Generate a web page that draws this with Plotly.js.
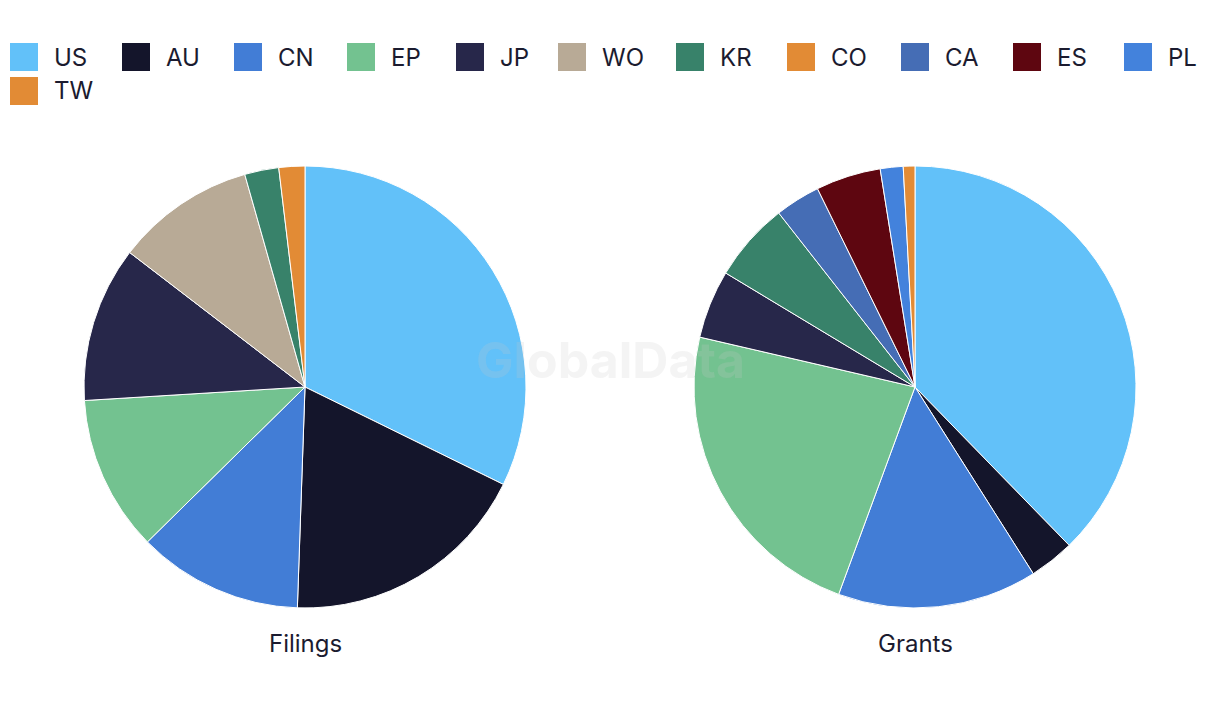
<!DOCTYPE html>
<html>
<head>
<meta charset="utf-8">
<script src="https://cdn.plot.ly/plotly-3.0.1.min.js"></script>
<style>html,body{margin:0;padding:0;background:#fff;}#chart{width:1220px;height:720px;}</style>
</head>
<body>
<div id="chart"></div>
<script>
// Data
const filingsLabels = ["US", "AU", "CN", "EP", "JP", "WO", "KR", "CO"];
const filingsValues = [32.3, 18.3, 12.1, 11.4, 11.4, 10.2, 2.5, 1.9];
const grantsLabels = ["US", "AU", "CN", "EP", "JP", "KR", "CA", "ES", "PL", "TW"];
const grantsValues = [37.7, 3.3, 14.6, 23.0, 5.0, 5.8, 3.3, 4.75, 1.67, 0.85];
const legendLabels = ["US", "AU", "CN", "EP", "JP", "WO", "KR", "CO", "CA", "ES", "PL", "TW"];
const colorMap = {
  US: "#62C1F9", AU: "#14152B", CN: "#427DD6", EP: "#73C290", JP: "#27274A",
  WO: "#B8AA96", KR: "#38826A", CO: "#E28B35", CA: "#456DB5", ES: "#5E0610",
  PL: "#4382DC", TW: "#E28B35"
};
const pieTitles = ["Filings", "Grants"];

const W = 1220, H = 720;
const mT = 166, mB = 112;
const plotH = H - mT - mB;
const font = "Inter, Roboto, 'Noto Sans', sans-serif";
const textColor = "#1b1b2f";

function pieTrace(labels, values, x0, x1) {
  return {
    type: "pie",
    labels: labels,
    values: values,
    sort: false,
    direction: "clockwise",
    rotation: 0,
    textinfo: "none",
    hoverinfo: "label+percent",
    marker: { colors: labels.map(l => colorMap[l]), line: { color: "#ffffff", width: 1 } },
    domain: { x: [x0, x1], y: [0, 1] },
    showlegend: false
  };
}

const data = [
  pieTrace(filingsLabels, filingsValues, 0, 0.5),
  pieTrace(grantsLabels, grantsValues, 0.5, 1)
];

// custom legend (paper coords from pixels)
const legendX = [10, 122, 234, 347, 456, 558, 676, 787, 901, 1013, 1124, 10];
const legendRowY = [57, 91];
const sw = 28;
const shapes = [];
const annotations = [];
function px(x) { return x / W; }
function py(y) { return (H - mB - y) / plotH; }
legendLabels.forEach((lab, i) => {
  const row = i < 11 ? 0 : 1;
  const x = legendX[i];
  const yc = legendRowY[row];
  shapes.push({
    type: "rect", xref: "paper", yref: "paper",
    x0: px(x), x1: px(x + sw), y0: py(yc + sw / 2), y1: py(yc - sw / 2),
    fillcolor: colorMap[lab], line: { width: 0 }
  });
  annotations.push({
    xref: "paper", yref: "paper", x: px(x + sw + 14), y: py(yc),
    xanchor: "left", yanchor: "middle", showarrow: false,
    text: lab, font: { family: font, size: 24, color: textColor }
  });
});

pieTitles.forEach((t, i) => {
  annotations.push({
    xref: "paper", yref: "paper", x: i === 0 ? 0.25 : 0.75, y: py(643),
    xanchor: "center", yanchor: "middle", showarrow: false,
    text: t, font: { family: font, size: 24, color: textColor }
  });
});

annotations.push({
  xref: "paper", yref: "paper", x: 0.5, y: py(360),
  xanchor: "center", yanchor: "middle", showarrow: false,
  text: "<b>GlobalData</b>", font: { family: font, size: 50, color: "rgba(200,200,200,0.2)" }
});

const layout = {
  width: W, height: H,
  margin: { l: 0, r: 0, t: mT, b: mB, pad: 0 },
  paper_bgcolor: "#ffffff",
  plot_bgcolor: "#ffffff",
  showlegend: false,
  shapes: shapes,
  annotations: annotations,
  font: { family: font, color: textColor }
};

Plotly.newPlot("chart", data, layout, { displayModeBar: false, staticPlot: true });
</script>
</body>
</html>
